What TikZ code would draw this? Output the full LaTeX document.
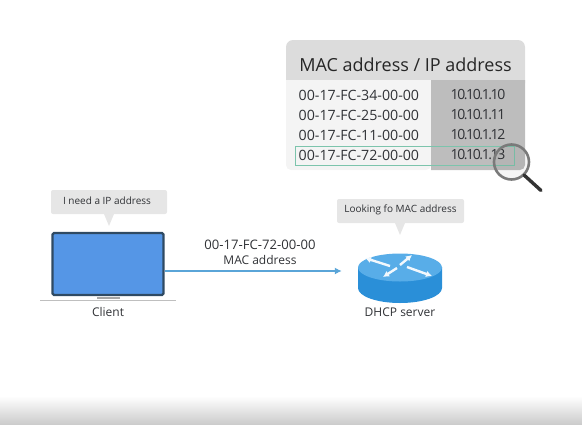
\documentclass[tikz,border=0pt]{standalone}
\usepackage{fontspec}
\setmainfont{Open Sans}
\usetikzlibrary{arrows.meta}
\definecolor{txt}{HTML}{303236}
\definecolor{bub}{HTML}{E6E6E6}
\definecolor{hdr}{HTML}{DCDCDC}
\definecolor{col}{HTML}{BDBDBD}
\definecolor{rowbg}{HTML}{F4F4F4}
\definecolor{lapfill}{HTML}{5596E6}
\definecolor{lapedge}{HTML}{2F4A63}
\definecolor{flow}{HTML}{5AA5D8}
\definecolor{sel}{HTML}{7CC4AC}
\definecolor{rtop}{HTML}{58ADE8}
\definecolor{rside}{HTML}{2A8FD8}
\definecolor{lens}{HTML}{7A7A7A}
\tikzset{
  lbl/.style={text=txt,inner sep=0pt,font=\fontsize{12}{14}\selectfont},
  maclbl/.style={text=txt,inner sep=0pt,font=\fontsize{13.1}{15}\selectfont},
  small/.style={text=txt,inner sep=0pt,font=\fontsize{10}{12}\selectfont},
  cell/.style={text=txt,inner sep=0pt,font=\fontsize{14.2}{16}\selectfont},
  ipcell/.style={text=txt,inner sep=0pt,font=\fontsize{14}{16}\selectfont\addfontfeatures{LetterSpace=-10}},
  bubble/.style={fill=bub,rounded corners=2pt,draw=none}
}
\begin{document}
\begin{tikzpicture}[x=1pt,y=-1pt]
\useasboundingbox (0,0) rectangle (582,424);
\shade[top color=white,bottom color=black!20] (0,396) rectangle (582,424);
% table
\fill[rowbg,rounded corners=5pt] (286,60) rectangle (431,170);
\fill[hdr,rounded corners=7pt] (286,40) rectangle (525,90);
\fill[rowbg] (286,80) rectangle (431,100);
\fill[col] (431,80) -- (525,80) -- (525,165) arc[start angle=0,end angle=90,radius=5] -- (431,170) -- cycle;
\node[text=black!85,inner sep=0pt,font=\fontsize{18}{21}\selectfont] (head) at (405.5,65) {MAC address / IP address};
\node[cell,anchor=west] (m1) at (298.5,95) {00-17-FC-34-00-00};
\node[cell,anchor=west] (m2) at (298.5,115) {00-17-FC-25-00-00};
\node[cell,anchor=west] (m3) at (298.5,135) {00-17-FC-11-00-00};
\node[cell,anchor=west] (m4) at (298.5,155) {00-17-FC-72-00-00};
\node[ipcell] (i1) at (478,95) {10.10.1.10};
\node[ipcell] (i2) at (478,115) {10.10.1.11};
\node[ipcell] (i3) at (478,135) {10.10.1.12};
\node[ipcell] (i4) at (478,155) {10.10.1.13};
\draw[sel,line width=1pt] (295,146) rectangle (514,165);
% magnifier
\fill[black,opacity=0.04] (511.5,162) circle (17.5);
\draw[lens,line width=2.6pt] (511.5,162) circle (17.5);
\draw[black!80,line width=3.4pt,line cap=round] (524,175) -- (541,190.5);
% client bubble
\fill[bubble] (51,190) rectangle (167,214);
\fill[bub] (104,214) -- (109,226) -- (114,214) -- cycle;
\node[small] (need) at (107,201) {I need a IP address};
% laptop
\node[draw=lapedge,fill=lapfill,line width=2.2pt,rounded corners=1.5pt,minimum width=111pt,minimum height=62pt,inner sep=0pt] (laptop) at (108,264) {};
\draw[black!25,line width=1pt] (40,300.5) -- (176,300.5);
\fill[black!35] (97,296.5) rectangle (120,299);
\node[lbl] (client) at (108,312) {Client};
% router
\fill[rside] (358,267) -- (358,288) arc[start angle=180,end angle=0,x radius=42,y radius=15] -- (442,267) -- cycle;
\fill[rtop] (400,267.5) ellipse[x radius=42,y radius=14];
\begin{scope}[draw=white!92!rtop,line width=2.4pt,-{Latex[length=6pt,width=6.5pt]}]
\draw (390,266) -- (365,258);
\draw (400,265) -- (412,255);
\draw (397,268) -- (383,277);
\draw (407,267) -- (432,276);
\end{scope}
\node[minimum width=84pt,minimum height=49pt,inner sep=0pt] (router) at (400,278.5) {};
\fill[bubble] (337,199) rectangle (464,223);
\fill[bub] (395,223) -- (400,235) -- (405,223) -- cycle;
\node[small] (look) at (400.5,210) {Looking fo MAC address};
\node[lbl] (dhcp) at (400,312) {DHCP server};
% connector
\draw[flow,line width=1.3pt,-{Latex[length=7pt,width=7pt]},shorten >=16pt] (laptop.east |- 0,271) coordinate (s) -- (router.west |- 0,271);
\node[maclbl] (mac) at (260,245) {00-17-FC-72-00-00};
\node[lbl] (macl) at (260,260) {MAC address};
\end{tikzpicture}
\end{document}
